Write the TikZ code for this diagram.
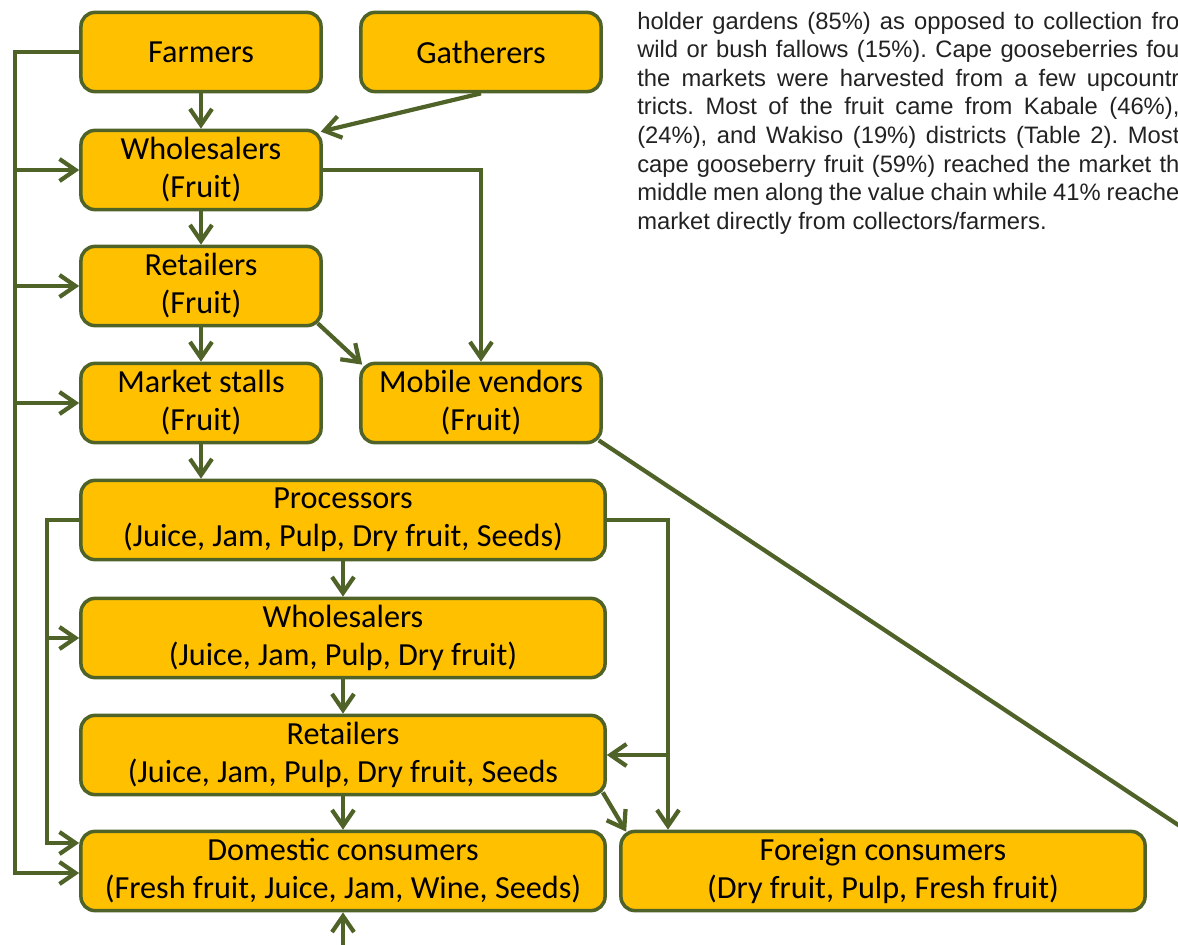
\documentclass[tikz,border=0pt]{standalone}
\usepackage{fontspec}
\setmainfont{Carlito}
\newfontfamily\notefont{Liberation Sans}
\usetikzlibrary{arrows.meta,calc}
\definecolor{boxfill}{HTML}{FFC000}
\definecolor{chainline}{HTML}{4F6228}
\definecolor{notegray}{HTML}{222222}

\tikzset{
  stage/.style={draw=chainline, fill=boxfill, line width=2.5pt, rounded corners=0.35cm,
    minimum height=1.98cm, align=center, inner sep=0pt,
    font=\fontsize{22.9}{27}\selectfont},
  smallstage/.style={stage, minimum width=6cm},
  widestage/.style={stage, minimum width=13.1cm},
  link/.style={draw=chainline, line width=3pt},
  flow/.style={link, -{Straight Barb[length=4mm,width=5.5mm]}},
  noteline/.style={anchor=west, inner sep=0pt, text=notegray,
    font=\notefont\frenchspacing\fontsize{16.9}{20}\selectfont},
}

\begin{document}
\begin{tikzpicture}[x=0.025cm,y=-0.025cm]
  \useasboundingbox (0,0) rectangle (1178,945);
  \clip (0,0) rectangle (1178,945);
  % fresh fruit part of the chain
  \node[smallstage] (farmers)     at (201,52)  {Farmers};
  \node[smallstage] (gatherers)   at (481,52)  {Gatherers};
  \node[smallstage] (wholefruit)  at (201,170) {Wholesalers\\(Fruit)};
  \node[smallstage] (retailfruit) at (201,286) {Retailers\\(Fruit)};
  \node[smallstage] (stalls)      at (201,403) {Market stalls\\(Fruit)};
  \node[smallstage] (mobile)      at (481,403) {Mobile vendors\\(Fruit)};
  % processed products
  \node[widestage] (processors)  at (343,520) {Processors\\(Juice, Jam, Pulp, Dry fruit, Seeds)};
  \node[widestage] (juicewhole)  at (343,638) {Wholesalers\\(Juice, Jam, Pulp, Dry fruit)};
  \node[widestage] (juiceretail) at (343,755) {Retailers\\(Juice, Jam, Pulp, Dry fruit, Seeds};
  \node[widestage] (domestic)    at (343,871) {Domestic consumers\\(Fresh fruit, Juice, Jam, Wine, Seeds)};
  \node[widestage] (foreign)     at (883,871) {Foreign consumers\\(Dry fruit, Pulp, Fresh fruit)};

  % bus lines along the sides
  \coordinate (outerbus) at (15,873);
  \coordinate (innerbus) at (47,843);
  \coordinate (rightbus) at (668,0);
  \coordinate (below)    at (343,960);
  \coordinate (offpage)  at (1240,866);

  % straight down the chain
  \foreach \a/\b in {farmers/wholefruit,wholefruit/retailfruit,retailfruit/stalls,
                     stalls/processors,processors/juicewhole,juicewhole/juiceretail,
                     juiceretail/domestic}{%
    \draw[flow] (\a.south) -- (\a.south |- \b.north);
  }
  % corner to corner, points on the rounded corners
  \draw[flow] (gatherers.south) -- ($(wholefruit.north east)+(-2,3)$);
  \draw[flow] (wholefruit.east) -| (mobile.north);
  \draw[flow] ($(retailfruit.south east)+(-5,-4)$) -- ($(mobile.north west)+(3,3)$);
  \draw[flow] ($(juiceretail.south east)+(-4,-4)$) -- ($(foreign.north west)+(7,2)$);
  \draw[link] ($(mobile.south east)+(-4,-4)$) -- (offpage);
  \draw[flow] (below) -- (domestic.south);

  % farmers sell to every level
  \draw[flow] (farmers.west) -| (outerbus) -- (outerbus -| domestic.west);
  \foreach \n in {wholefruit,retailfruit,stalls}{%
    \draw[flow] (outerbus |- \n.west) -- (\n.west);
  }
  % processors to the lower levels
  \draw[flow] (processors.west) -| (innerbus) -- (innerbus -| domestic.west);
  \draw[flow] (innerbus |- juicewhole.west) -- (juicewhole.west);
  \draw[flow] (processors.east) -| (rightbus |- foreign.north);
  \draw[flow] (rightbus |- juiceretail.east) -- (juiceretail.east);

  % text of the page beside the figure
  \foreach \txt [count=\k] in {%
      {holder gardens (85\%) as opposed to collection fro},
      {wild or bush fallows (15\%). Cape gooseberries fou},
      {the markets were harvested from a few upcountr},
      {tricts. Most of the fruit came from Kabale (46\%),},
      {(24\%), and Wakiso (19\%) districts (Table 2). Most},
      {cape gooseberry fruit (59\%) reached the market th},
      {middle men along the value chain while 41\% reache}}{%
    \node[noteline] (note\k) at (637,{23+28.6*(\k-1)}) {\makebox[13.55cm][s]{\txt}};
  }
  \node[noteline] (note8) at (637,223) {market directly from collectors/farmers.};
\end{tikzpicture}
\end{document}
